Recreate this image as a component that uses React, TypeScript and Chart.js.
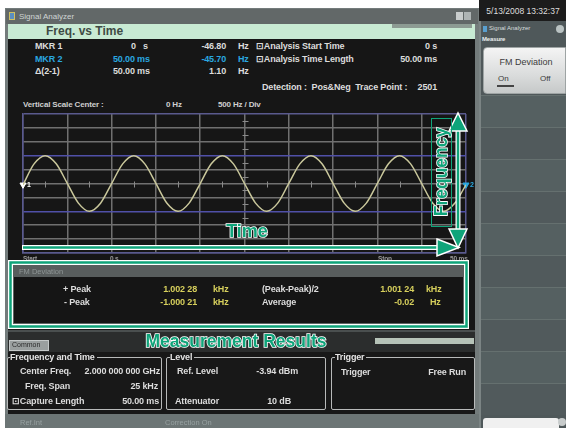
import React, { useEffect, useRef } from "react";
import { Chart, registerables } from "chart.js";
Chart.register(...registerables);

// ---- data ----
const timeMs = [0, 1.25, 2.5, 3.75, 5, 6.25, 7.5, 8.75, 10, 11.25, 12.5, 13.75, 15, 16.25, 17.5, 18.75, 20, 21.25, 22.5, 23.75, 25, 26.25, 27.5, 28.75, 30, 31.25, 32.5, 33.75, 35, 36.25, 37.5, 38.75, 40, 41.25, 42.5, 43.75, 45, 46.25, 47.5, 48.75, 50];
const freqHz = [-47, 706, 1002, 709, 4, -705, -1000, -708, -3, 707, 1001, 706, 2, -709, -999, -705, -1, 708, 1002, 707, 0, -706, -1000, -707, 2, 705, 1001, 708, -2, -707, -1000, -706, 1, 708, 1002, 706, -3, -708, -1000, -705, -46];
const markerNames = ["1", "2"];
const markerTimeMs = [0, 50];
const markerFreqHz = [-46.8, -45.7];
const xMinMs = 0;
const xMaxMs = 50;
const xStepMs = 5;
const yMinHz = -2500;
const yMaxHz = 2500;
const yStepHz = 500;
const peakLinesHz = [1000, -1000];

const GREEN = "#0fa47a";
const FONT = '"Liberation Sans", Arial, sans-serif';

type TP = { x: number; y: number; s?: number; c?: string; b?: boolean; r?: boolean; children: React.ReactNode; style?: React.CSSProperties };
const T = ({ x, y, s = 9, c = "#dcdcdc", b = true, r = false, children, style }: TP) => {
  const pos: React.CSSProperties = r ? { right: 566 - x } : { left: x };
  return (
    <div style={{ position: "absolute", top: y - s * 0.6, ...pos, fontSize: s, lineHeight: `${s * 1.2}px`, color: c, fontWeight: b ? 700 : 400, letterSpacing: b ? -0.15 : 0, whiteSpace: "nowrap", ...style }}>
      {children}
    </div>
  );
};
type BP = { x: number; y: number; w: number; h: number; bg?: string; style?: React.CSSProperties; children?: React.ReactNode };
const B = ({ x, y, w, h, bg, style, children }: BP) => (
  <div style={{ position: "absolute", left: x, top: y, width: w, height: h, background: bg, boxSizing: "border-box", ...style }}>{children}</div>
);

const minorTicks = {
  id: "minorTicks",
  beforeDatasetsDraw(chart: any) {
    const { ctx, scales } = chart;
    const xs = scales.x, ys = scales.y;
    ctx.save();
    ctx.strokeStyle = "#8a8a8a";
    ctx.lineWidth = 1;
    const y0 = Math.round(ys.getPixelForValue(0)) + 0.5;
    for (let v = xMinMs + xStepMs / 2; v < xMaxMs; v += xStepMs) {
      const px = Math.round(xs.getPixelForValue(v)) + 0.5;
      ctx.beginPath();
      ctx.moveTo(px, y0 - 3);
      ctx.lineTo(px, y0 + 3);
      ctx.stroke();
    }
    const xc = Math.round(xs.getPixelForValue((xMinMs + xMaxMs) / 2)) + 0.5;
    for (let v = yMinHz + yStepHz / 2; v < yMaxHz; v += yStepHz) {
      const py = Math.round(ys.getPixelForValue(v)) + 0.5;
      ctx.beginPath();
      ctx.moveTo(xc - 3, py);
      ctx.lineTo(xc + 3, py);
      ctx.stroke();
    }
    ctx.restore();
  },
  afterDatasetsDraw(chart: any) {
    const { ctx, scales } = chart;
    ctx.save();
    ctx.font = `bold 7px ${FONT}`;
    ctx.textBaseline = "middle";
    markerNames.forEach((n, i) => {
      const px = scales.x.getPixelForValue(markerTimeMs[i]);
      const py = scales.y.getPixelForValue(markerFreqHz[i]);
      ctx.fillStyle = i === 0 ? "#ffffff" : "#2aa8e0";
      ctx.fillText(n, px + 4, py);
    });
    ctx.restore();
  },
};

function Plot() {
  const ref = useRef<HTMLCanvasElement>(null);
  useEffect(() => {
    const gridColor = (ctx: any) => {
      const v = ctx.tick?.value;
      if (peakLinesHz.includes(v)) return "#5050a8";
      if (v === yMinHz || v === yMaxHz) return "#5a5a8e";
      return "#707070";
    };
    const xGridColor = (ctx: any) => {
      const v = ctx.tick?.value;
      if (v === xMinMs || v === xMaxMs) return "#5a5a8e";
      return "#707070";
    };
    const chart = new Chart(ref.current!, {
      type: "line",
      data: {
        datasets: [
          {
            data: timeMs.map((t, i) => ({ x: t, y: freqHz[i] })),
            borderColor: "#cac89c",
            borderWidth: 1.5,
            pointRadius: 0,
            cubicInterpolationMode: "monotone",
            fill: false,
          },
          {
            data: markerTimeMs.map((t, i) => ({ x: t, y: markerFreqHz[i] })),
            showLine: false,
            pointStyle: "triangle",
            rotation: 180,
            pointRadius: 3.5,
            pointBackgroundColor: ["#ffffff", "#2aa8e0"],
            pointBorderColor: ["#ffffff", "#2aa8e0"],
            clip: false,
          } as any,
        ],
      },
      options: {
        animation: false,
        responsive: false,
        devicePixelRatio: 1,
        layout: { padding: { left: 15, top: 19, right: 9, bottom: 8 } },
        plugins: { legend: { display: false }, tooltip: { enabled: false } },
        scales: {
          x: {
            type: "linear",
            min: xMinMs,
            max: xMaxMs,
            ticks: { display: false, stepSize: xStepMs },
            grid: { color: xGridColor, drawTicks: false, lineWidth: 1.5 },
            border: { color: "#5a5a8e", width: 1.5 },
          },
          y: {
            type: "linear",
            min: yMinHz,
            max: yMaxHz,
            ticks: { display: false, stepSize: yStepHz },
            grid: { color: gridColor, drawTicks: false, lineWidth: 1.5 },
            border: { color: "#5a5a8e", width: 1.5 },
          },
        },
      },
      plugins: [minorTicks],
    });
    return () => chart.destroy();
  }, []);
  return (
    <div style={{ position: "absolute", left: 8, top: 95, width: 467, height: 166 }}>
      <canvas ref={ref} width={467} height={166} style={{ width: 467, height: 166, display: "block" }} />
    </div>
  );
}

export default function App() {
  const stripes = [];
  for (let i = 0; i < 10; i++) {
    stripes.push(
      <B key={i} x={481} y={95 + i * 32} w={85} h={32} bg={i % 2 ? "#515a5c" : "#556061"} style={{ borderTop: "1px solid #65706f" }} />
    );
  }
  return (
    <div style={{ position: "fixed", left: 0, top: 0, width: 566, height: 428, overflow: "hidden", background: "#ffffff", fontFamily: FONT }}>
      {/* main window frame */}
      <B x={5} y={8} w={474} h={420} bg="#737b7b" />
      {/* title bar */}
      <B x={6} y={9} w={472} h={15} bg="#626868" />
      <B x={9} y={12} w={6} h={8} bg="#5a8fc0" style={{ border: "1px solid #d0c060" }} />
      <T x={19} y={16.5} s={8} c="#cfd4d4" b={false}>Signal Analyzer</T>
      <B x={456} y={12} w={7} h={8} bg="#c8cccc" />
      <B x={464} y={12} w={7} h={8} bg="#aeb4b4" />
      {/* mint header */}
      <B x={8} y={24} w={467} h={15} bg="#c8ead3" />
      <T x={46} y={31.5} s={12} c="#3f4a44" style={{ letterSpacing: 0 }}>Freq. vs Time</T>
      <B x={392} y={24} w={80} h={4} bg="#8d9b93" />
      {/* black measurement area */}
      <B x={8} y={39} w={467} h={291} bg="#161616" />

      <T x={35} y={46}>MKR 1</T>
      <T x={131} y={46}>0</T>
      <T x={143} y={46}>s</T>
      <T x={226} y={46} r>-46.80</T>
      <T x={238} y={46}>Hz</T>
      <T x={256} y={46}>⊡Analysis Start Time</T>
      <T x={437} y={46} r>0 s</T>

      <T x={35} y={59} c="#2aa8e0">MKR 2</T>
      <T x={113} y={59} c="#2aa8e0">50.00 ms</T>
      <T x={226} y={59} r c="#2aa8e0">-45.70</T>
      <T x={238} y={59} c="#2aa8e0">Hz</T>
      <T x={256} y={59}>⊡Analysis Time Length</T>
      <T x={437} y={59} r>50.00 ms</T>

      <T x={35} y={71}>Δ(2-1)</T>
      <T x={113} y={71}>50.00 ms</T>
      <T x={226} y={71} r>1.10</T>
      <T x={238} y={71}>Hz</T>

      <T x={262} y={87}>Detection :&nbsp; Pos&amp;Neg&nbsp; Trace Point :</T>
      <T x={437} y={87} r>2501</T>

      <T x={23} y={104.5} s={8} c="#cfcfcf">Vertical Scale Center :</T>
      <T x={166} y={104.5} s={8} c="#cfcfcf">0 Hz</T>
      <T x={218} y={104.5} s={8} c="#cfcfcf">500 Hz / Div</T>

      <Plot />

      <T x={23} y={259} s={6.5} c="#9a9a9a">Start</T>
      <T x={110} y={259} s={6.5} c="#9a9a9a">0 s</T>
      <T x={378} y={259} s={6.5} c="#9a9a9a">Stop</T>
      <T x={450} y={259} s={6.5} c="#9a9a9a">50 ms</T>

      {/* FM Deviation panel */}
      <B x={13} y={265} w={451} h={59} bg="#151515" style={{ border: "1px solid #5f6464" }} />
      <B x={13} y={265} w={451} h={12} bg="#585d5d" />
      <T x={19} y={271} s={7.5} c="#8f9696" b={false}>FM Deviation</T>
      <T x={63} y={289}>+ Peak</T>
      <T x={197} y={289} r c="#d6cf5c">1.002 28</T>
      <T x={213} y={289} c="#d6cf5c">kHz</T>
      <T x={262} y={289}>(Peak-Peak)/2</T>
      <T x={414} y={289} r c="#d6cf5c">1.001 24</T>
      <T x={426} y={289} c="#d6cf5c">kHz</T>
      <T x={64} y={302}>- Peak</T>
      <T x={197} y={302} r c="#d6cf5c">-1.000 21</T>
      <T x={213} y={302} c="#d6cf5c">kHz</T>
      <T x={262} y={302}>Average</T>
      <T x={414} y={302} r c="#d6cf5c">-0.02</T>
      <T x={430} y={302} c="#d6cf5c">Hz</T>

      {/* Common bar */}
      <B x={8} y={330} w={467} h={22} bg="#2b2d2d" style={{ borderTop: "2px solid #4a4f4f" }} />
      <B x={9} y={340} w={40} h={11} bg="#9a9f9f" style={{ border: "1px solid #c4c8c8" }} />
      <T x={12} y={345.5} s={7} c="#2a2a2a" b={false}>Common</T>
      <B x={375} y={338} w={99} h={6} bg="#b6c3b8" />
      {/* Settings area */}
      <B x={8} y={352} w={467} h={62} bg="#181818" />
      <B x={7} y={357} w={155} h={53} style={{ border: "1px solid #b8baba", borderRadius: 2 }} />
      <T x={10} y={357} c="#e4e4e4" style={{ background: "#181818", paddingRight: 2 }}>Frequency and Time</T>
      <T x={20} y={371}>Center Freq.</T>
      <T x={160} y={371} r>2.000 000 000 GHz</T>
      <T x={25} y={386}>Freq. Span</T>
      <T x={158} y={386} r>25 kHz</T>
      <T x={12} y={401}>⊡Capture Length</T>
      <T x={159} y={401} r>50.00 ms</T>

      <B x={166} y={357} w={160} h={53} style={{ border: "1px solid #b8baba", borderRadius: 2 }} />
      <T x={170} y={357} c="#e4e4e4" style={{ background: "#181818", paddingRight: 2 }}>Level</T>
      <T x={177} y={371}>Ref. Level</T>
      <T x={298} y={371} r>-3.94 dBm</T>
      <T x={175} y={401}>Attenuator</T>
      <T x={291} y={401} r>10 dB</T>

      <B x={331} y={357} w={144} h={53} style={{ border: "1px solid #b8baba", borderRadius: 2 }} />
      <T x={335} y={357} c="#e4e4e4" style={{ background: "#181818", paddingRight: 2 }}>Trigger</T>
      <T x={341} y={372}>Trigger</T>
      <T x={466} y={372} r>Free Run</T>

      {/* status bar */}
      <B x={5} y={414} w={474} h={14} bg="#6c7575" />
      <T x={20} y={422} s={7.5} c="#97a1a1" b={false}>Ref.Int</T>
      <T x={165} y={422} s={7.5} c="#97a1a1" b={false}>Correction On</T>

      {/* right panel */}
      <B x={479} y={0} w={87} h={21} bg="#1c1c1c" />
      <T x={523} y={11} s={8.5} c="#dedede" b={false} style={{ transform: "translateX(-50%)" }}>5/13/2008 13:32:37</T>
      <B x={479} y={21} w={87} h={407} bg="#4f585a" style={{ borderLeft: "2px solid #7b8484" }} />
      <B x={483} y={26} w={4} h={6} bg="#5aa0d0" />
      <T x={489} y={29} s={6} c="#d8dddd" b={false}>Signal Analyzer</T>
      <B x={556} y={25} w={8} h={8} bg="#b9c2c2" style={{ borderRadius: 4 }} />
      <T x={482} y={40} s={6} c="#e8eeee">Measure</T>
      <B x={483} y={47} w={83} h={47} style={{ background: "linear-gradient(#f4f4f4, #dadcdc 60%, #c6c9c9)", borderRadius: "4px 0 0 4px", border: "1px solid #9ea4a4" }} />
      <T x={526} y={62} s={9} c="#3c3c3c" b={false} style={{ transform: "translateX(-50%)" }}>FM Deviation</T>
      <T x={498} y={79} s={8} c="#3c3c3c" b={false}>On</T>
      <B x={497} y={85} w={17} h={1.5} bg="#444" />
      <T x={540} y={79} s={8} c="#3c3c3c" b={false}>Off</T>
      {stripes}
      <B x={483} y={418} w={76} h={10} bg="#f0f0f0" style={{ borderRadius: "3px 3px 0 0" }} />
      <B x={558} y={418} w={8} h={8} bg="#c8cccc" style={{ borderRadius: 4 }} />

      {/* green annotations */}
      <svg width={566} height={428} style={{ position: "absolute", left: 0, top: 0, pointerEvents: "none" }}>
        <rect x={10.5} y={262.5} width={456} height={64} fill="none" stroke="#ffffff" strokeWidth={5} />
        <rect x={10.5} y={262.5} width={456} height={64} fill="none" stroke={GREEN} strokeWidth={2.5} />
        {/* horizontal time arrow */}
        <line x1={22} y1={247.5} x2={440} y2={247.5} stroke="#ffffff" strokeWidth={5} />
        <line x1={23} y1={247.5} x2={440} y2={247.5} stroke={GREEN} strokeWidth={2.5} />
        <polygon points="437,239 459,247.5 437,256" fill={GREEN} stroke="#ffffff" strokeWidth={1.5} />
        {/* vertical frequency arrow */}
        <line x1={458} y1={128} x2={458} y2={231} stroke="#ffffff" strokeWidth={5} />
        <line x1={458} y1={128} x2={458} y2={231} stroke={GREEN} strokeWidth={2.5} />
        <polygon points="449,131 458,113 467,131" fill={GREEN} stroke="#ffffff" strokeWidth={1.5} />
        <polygon points="449,229 458,248 467,229" fill={GREEN} stroke="#ffffff" strokeWidth={1.5} />
        <rect x={431.5} y={118.5} width={20} height={108} fill="none" stroke={GREEN} strokeWidth={1} />
        <text x={441} y={172} transform="rotate(-90 441 172)" textAnchor="middle" dominantBaseline="central" fontFamily={FONT} fontWeight="bold" fontSize={17.5} fill={GREEN} stroke="#ffffff" strokeWidth={1.6} paintOrder="stroke">Frequency</text>
        <text x={247} y={231} textAnchor="middle" dominantBaseline="central" fontFamily={FONT} fontWeight="bold" fontSize={18} fill={GREEN} stroke="#ffffff" strokeWidth={1.6} paintOrder="stroke">Time</text>
        <text x={236} y={341} textAnchor="middle" dominantBaseline="central" fontFamily={FONT} fontWeight="bold" fontSize={17.5} fill={GREEN} stroke="#ffffff" strokeWidth={1.6} paintOrder="stroke">Measurement Results</text>
      </svg>
    </div>
  );
}
